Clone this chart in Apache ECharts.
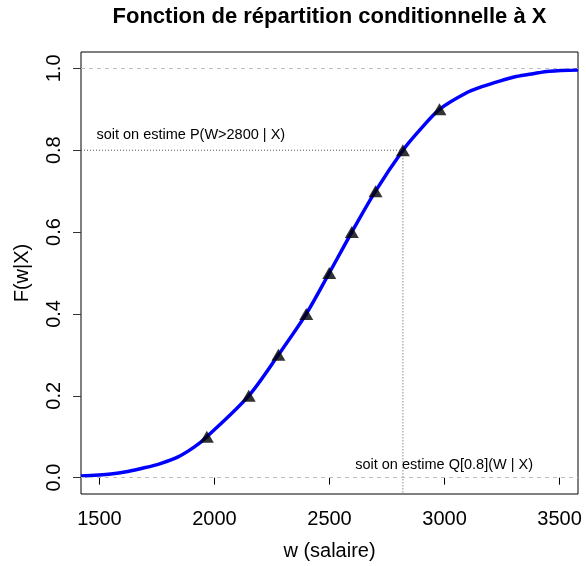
<!DOCTYPE html>
<html><head><meta charset="utf-8">
<script src="https://cdn.jsdelivr.net/npm/echarts@6/dist/echarts.min.js"></script>
<style>html,body{margin:0;padding:0;background:#fff}#c{width:586px;height:566px}</style>
</head><body><div id="c"></div>
<script>
const curveW = [1420, 1550, 1623, 1695, 1768, 1840, 1913, 1967, 2149, 2278, 2399, 2499, 2597, 2700, 2819, 2890, 2978, 3094, 3166, 3239, 3311, 3384, 3456, 3580];
const curveF = [0.004, 0.009, 0.015, 0.024, 0.035, 0.050, 0.075, 0.100, 0.200, 0.300, 0.400, 0.500, 0.600, 0.700, 0.800, 0.848, 0.900, 0.940, 0.956, 0.969, 0.980, 0.987, 0.993, 0.996];
const quantP = [0.1, 0.2, 0.3, 0.4, 0.5, 0.6, 0.7, 0.8, 0.9];
const quantW = [1967, 2149, 2278, 2399, 2499, 2597, 2700, 2819, 2978];
const xTicks = [1500, 2000, 2500, 3000, 3500];
const yTicks = [0, 0.2, 0.4, 0.6, 0.8, 1.0];
const refLines = [0, 1];
const refLevel = 0.8;
const refW = 2819;
const xRange = [1420, 3580];
const yRange = [-0.04, 1.04];
const titleText = 'Fonction de répartition conditionnelle à X';
const xName = 'w (salaire)';
const yName = 'F(w|X)';
const notes = [
  {text: 'soit on estime P(W>2800 | X)', w: 1487, f: 0.836, align: 'left'},
  {text: 'soit on estime Q[0.8](W | X)', w: 2998, f: 0.030, align: 'center'}
];

const FONT = '"Liberation Sans", Arial, Helvetica, sans-serif';
const chart = echarts.init(document.getElementById('c'), null, {renderer: 'canvas'});
const option = {
  animation: false,
  backgroundColor: '#fff',
  grid: {left: 81, right: 8, top: 52, bottom: 70, show: true, borderColor: '#000', borderWidth: 1, backgroundColor: 'transparent', containLabel: false},
  xAxis: {
    type: 'value', min: xRange[0], max: xRange[1],
    name: xName, nameLocation: 'middle', nameGap: 47,
    nameTextStyle: {fontFamily: FONT, fontSize: 20, color: '#000'},
    axisLine: {show: false},
    axisTick: {show: true, length: 7, inside: false, customValues: xTicks, lineStyle: {color: '#000'}},
    axisLabel: {show: true, customValues: xTicks, margin: 15, fontFamily: FONT, fontSize: 20, color: '#000',
      formatter: v => String(v)},
    splitLine: {show: false}
  },
  yAxis: {
    type: 'value', min: yRange[0], max: yRange[1],
    name: yName, nameLocation: 'middle', nameGap: 49,
    nameTextStyle: {fontFamily: FONT, fontSize: 20, color: '#000'},
    axisLine: {show: false},
    axisTick: {show: true, length: 8, inside: false, customValues: yTicks, lineStyle: {color: '#333'}},
    axisLabel: {show: true, customValues: yTicks, rotate: 90, margin: 17, fontFamily: FONT, fontSize: 20, color: '#000',
      formatter: v => v.toFixed(1)},
    splitLine: {show: false}
  },
  series: [
    {
      type: 'line', name: 'ref', data: [], symbol: 'none', silent: true,
      markLine: {
        silent: true, symbol: 'none', label: {show: false},
        lineStyle: {color: '#bebebe', type: [4, 4], width: 1},
        data: refLines.map(v => ({yAxis: v}))
      }
    },
    {
      type: 'line', name: 'guide', silent: true, symbol: 'none',
      data: [[xRange[0], refLevel], [refW, refLevel], [refW, yRange[0]]],
      lineStyle: {color: '#555', width: 1, type: [1, 2]}
    },
    {
      type: 'line', name: 'F', silent: true, symbol: 'none', smooth: 0.3,
      data: curveW.map((w, i) => [w, curveF[i]]),
      lineStyle: {color: '#0000ff', width: 3.5}, z: 3
    },
    {
      type: 'scatter', name: 'quantiles', silent: true, symbol: 'triangle', symbolSize: [14, 12],
      data: quantW.map((w, i) => [w, quantP[i]]),
      itemStyle: {color: '#000'}, z: 4
    }
  ]
};
chart.setOption(option);

const graphics = [{
  type: 'text', x: (81 + 578) / 2, y: 17,
  style: {text: titleText, font: 'bold 22px ' + FONT, fill: '#000', textAlign: 'center', textVerticalAlign: 'middle'}
}];
notes.forEach(n => {
  const p = chart.convertToPixel({gridIndex: 0}, [n.w, n.f]);
  graphics.push({type: 'text', x: p[0], y: p[1],
    style: {text: n.text, font: '14.5px ' + FONT, fill: '#000', textAlign: n.align, textVerticalAlign: 'middle'}});
});
chart.setOption({graphic: graphics});
</script>
</body></html>
